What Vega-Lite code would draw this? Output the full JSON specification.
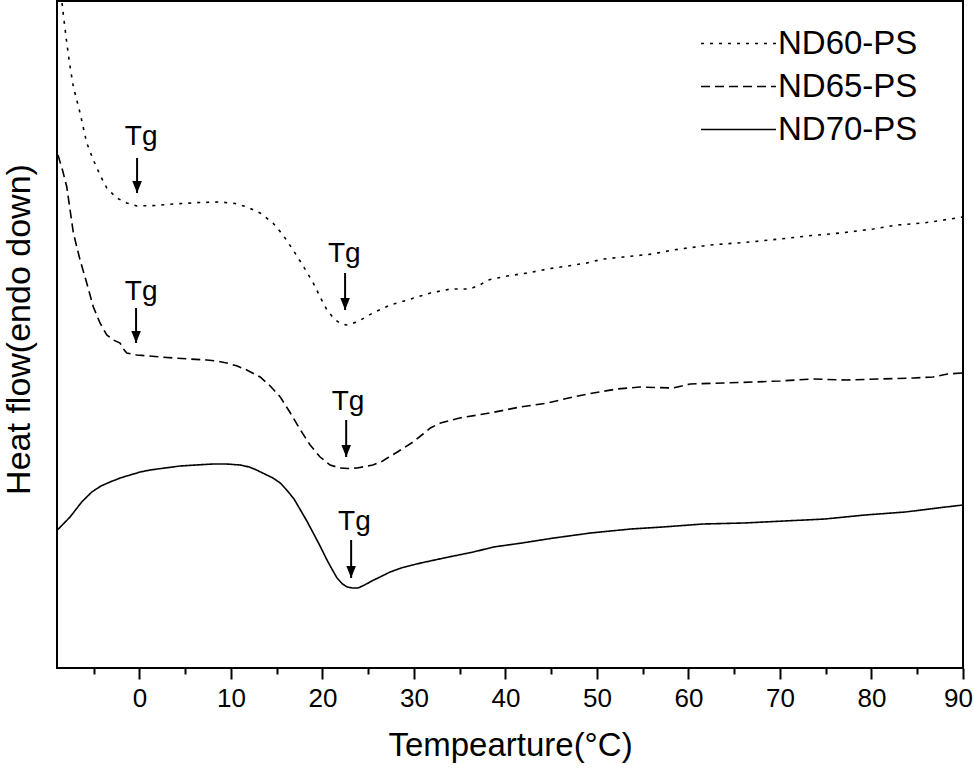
{
  "$schema": "https://vega.github.io/schema/vega-lite/v6.json",
  "width": 906,
  "height": 667,
  "autosize": "none",
  "padding": {"left": 57, "top": 1, "right": 10, "bottom": 105},
  "background": "white",
  "config": {
    "view": {"stroke": "black", "strokeWidth": 2},
    "font": "Liberation Sans",
    "axis": {"grid": false, "labelFont": "Liberation Sans", "titleFont": "Liberation Sans", "labelColor": "black", "titleColor": "black", "titleFontWeight": "normal"}
  },
  "datasets": {
    "curves": [
      {"series": "ND60-PS", "T": -8.45, "hf": 665},
      {"series": "ND60-PS", "T": -8.37, "hf": 658},
      {"series": "ND60-PS", "T": -7.93, "hf": 625},
      {"series": "ND60-PS", "T": -7.57, "hf": 601},
      {"series": "ND60-PS", "T": -7.21, "hf": 581},
      {"series": "ND60-PS", "T": -6.84, "hf": 568},
      {"series": "ND60-PS", "T": -6.48, "hf": 555},
      {"series": "ND60-PS", "T": -5.75, "hf": 525},
      {"series": "ND60-PS", "T": -5.03, "hf": 508},
      {"series": "ND60-PS", "T": -4.3, "hf": 493},
      {"series": "ND60-PS", "T": -3.56, "hf": 480},
      {"series": "ND60-PS", "T": -2.47, "hf": 470},
      {"series": "ND60-PS", "T": -1.38, "hf": 465},
      {"series": "ND60-PS", "T": -0.28, "hf": 462},
      {"series": "ND60-PS", "T": 1.72, "hf": 462.5},
      {"series": "ND60-PS", "T": 3.68, "hf": 464},
      {"series": "ND60-PS", "T": 6.63, "hf": 465.5},
      {"series": "ND60-PS", "T": 8.82, "hf": 466},
      {"series": "ND60-PS", "T": 10.46, "hf": 464.5},
      {"series": "ND60-PS", "T": 11.77, "hf": 461},
      {"series": "ND60-PS", "T": 13.2, "hf": 455},
      {"series": "ND60-PS", "T": 14.6, "hf": 445},
      {"series": "ND60-PS", "T": 15.7, "hf": 433},
      {"series": "ND60-PS", "T": 16.8, "hf": 418},
      {"series": "ND60-PS", "T": 17.9, "hf": 402},
      {"series": "ND60-PS", "T": 19.0, "hf": 385},
      {"series": "ND60-PS", "T": 19.75, "hf": 371},
      {"series": "ND60-PS", "T": 20.5, "hf": 358},
      {"series": "ND60-PS", "T": 21.3, "hf": 349},
      {"series": "ND60-PS", "T": 21.9, "hf": 345},
      {"series": "ND60-PS", "T": 22.6, "hf": 343},
      {"series": "ND60-PS", "T": 23.8, "hf": 346},
      {"series": "ND60-PS", "T": 25.5, "hf": 355},
      {"series": "ND60-PS", "T": 27.4, "hf": 363},
      {"series": "ND60-PS", "T": 29.3, "hf": 368},
      {"series": "ND60-PS", "T": 31.8, "hf": 375},
      {"series": "ND60-PS", "T": 34.0, "hf": 379},
      {"series": "ND60-PS", "T": 36.1, "hf": 379},
      {"series": "ND60-PS", "T": 37.2, "hf": 383},
      {"series": "ND60-PS", "T": 38.1, "hf": 388},
      {"series": "ND60-PS", "T": 40.2, "hf": 392},
      {"series": "ND60-PS", "T": 42.4, "hf": 395},
      {"series": "ND60-PS", "T": 44.6, "hf": 399},
      {"series": "ND60-PS", "T": 46.8, "hf": 402},
      {"series": "ND60-PS", "T": 48.9, "hf": 405},
      {"series": "ND60-PS", "T": 50.7, "hf": 409},
      {"series": "ND60-PS", "T": 52.9, "hf": 411},
      {"series": "ND60-PS", "T": 56.1, "hf": 414},
      {"series": "ND60-PS", "T": 58.3, "hf": 418},
      {"series": "ND60-PS", "T": 62.4, "hf": 423},
      {"series": "ND60-PS", "T": 66.7, "hf": 426},
      {"series": "ND60-PS", "T": 70.0, "hf": 429},
      {"series": "ND60-PS", "T": 72.97, "hf": 432},
      {"series": "ND60-PS", "T": 76.6, "hf": 435},
      {"series": "ND60-PS", "T": 80.2, "hf": 439},
      {"series": "ND60-PS", "T": 82.8, "hf": 443},
      {"series": "ND60-PS", "T": 85.7, "hf": 445},
      {"series": "ND60-PS", "T": 87.9, "hf": 448},
      {"series": "ND60-PS", "T": 90, "hf": 451},

      {"series": "ND65-PS", "T": -8.89, "hf": 513},
      {"series": "ND65-PS", "T": -8.4, "hf": 498},
      {"series": "ND65-PS", "T": -7.93, "hf": 481},
      {"series": "ND65-PS", "T": -7.21, "hf": 435},
      {"series": "ND65-PS", "T": -6.48, "hf": 408},
      {"series": "ND65-PS", "T": -5.75, "hf": 385},
      {"series": "ND65-PS", "T": -5.03, "hf": 361},
      {"series": "ND65-PS", "T": -4.3, "hf": 345},
      {"series": "ND65-PS", "T": -3.56, "hf": 333},
      {"series": "ND65-PS", "T": -2.84, "hf": 328},
      {"series": "ND65-PS", "T": -2.11, "hf": 325},
      {"series": "ND65-PS", "T": -1.75, "hf": 319},
      {"series": "ND65-PS", "T": -1.38, "hf": 315},
      {"series": "ND65-PS", "T": -0.28, "hf": 313},
      {"series": "ND65-PS", "T": 1.7, "hf": 311.5},
      {"series": "ND65-PS", "T": 3.72, "hf": 310},
      {"series": "ND65-PS", "T": 5.5, "hf": 309},
      {"series": "ND65-PS", "T": 7.37, "hf": 308},
      {"series": "ND65-PS", "T": 8.5, "hf": 307},
      {"series": "ND65-PS", "T": 9.55, "hf": 305},
      {"series": "ND65-PS", "T": 10.7, "hf": 302},
      {"series": "ND65-PS", "T": 11.74, "hf": 298},
      {"series": "ND65-PS", "T": 13.2, "hf": 291},
      {"series": "ND65-PS", "T": 14.3, "hf": 282},
      {"series": "ND65-PS", "T": 15.4, "hf": 271},
      {"series": "ND65-PS", "T": 16.5, "hf": 255},
      {"series": "ND65-PS", "T": 17.6, "hf": 238},
      {"series": "ND65-PS", "T": 18.66, "hf": 223},
      {"series": "ND65-PS", "T": 19.75, "hf": 211},
      {"series": "ND65-PS", "T": 20.84, "hf": 203},
      {"series": "ND65-PS", "T": 21.9, "hf": 200},
      {"series": "ND65-PS", "T": 22.8, "hf": 199.5},
      {"series": "ND65-PS", "T": 23.8, "hf": 200},
      {"series": "ND65-PS", "T": 25.5, "hf": 203},
      {"series": "ND65-PS", "T": 26.4, "hf": 206},
      {"series": "ND65-PS", "T": 27.1, "hf": 210},
      {"series": "ND65-PS", "T": 28.2, "hf": 216},
      {"series": "ND65-PS", "T": 29.9, "hf": 226},
      {"series": "ND65-PS", "T": 31.0, "hf": 234},
      {"series": "ND65-PS", "T": 31.8, "hf": 240},
      {"series": "ND65-PS", "T": 32.9, "hf": 245},
      {"series": "ND65-PS", "T": 35.0, "hf": 250},
      {"series": "ND65-PS", "T": 38.3, "hf": 255},
      {"series": "ND65-PS", "T": 41.6, "hf": 261},
      {"series": "ND65-PS", "T": 44.6, "hf": 265},
      {"series": "ND65-PS", "T": 47.4, "hf": 271},
      {"series": "ND65-PS", "T": 49.6, "hf": 275},
      {"series": "ND65-PS", "T": 52.2, "hf": 279},
      {"series": "ND65-PS", "T": 54.7, "hf": 281},
      {"series": "ND65-PS", "T": 58.3, "hf": 280},
      {"series": "ND65-PS", "T": 60.2, "hf": 284},
      {"series": "ND65-PS", "T": 63.8, "hf": 285},
      {"series": "ND65-PS", "T": 67.1, "hf": 286},
      {"series": "ND65-PS", "T": 70.0, "hf": 287},
      {"series": "ND65-PS", "T": 73.6, "hf": 289},
      {"series": "ND65-PS", "T": 77.3, "hf": 288},
      {"series": "ND65-PS", "T": 80.9, "hf": 289},
      {"series": "ND65-PS", "T": 84.6, "hf": 290},
      {"series": "ND65-PS", "T": 86.7, "hf": 291},
      {"series": "ND65-PS", "T": 88.3, "hf": 294},
      {"series": "ND65-PS", "T": 90, "hf": 295},

      {"series": "ND70-PS", "T": -8.96, "hf": 138},
      {"series": "ND70-PS", "T": -7.57, "hf": 151},
      {"series": "ND70-PS", "T": -6.3, "hf": 166},
      {"series": "ND70-PS", "T": -5.2, "hf": 176},
      {"series": "ND70-PS", "T": -4.2, "hf": 182},
      {"series": "ND70-PS", "T": -3.2, "hf": 186},
      {"series": "ND70-PS", "T": -2.1, "hf": 190},
      {"series": "ND70-PS", "T": -1.0, "hf": 193},
      {"series": "ND70-PS", "T": 0.1, "hf": 196},
      {"series": "ND70-PS", "T": 1.16, "hf": 198},
      {"series": "ND70-PS", "T": 2.8, "hf": 200},
      {"series": "ND70-PS", "T": 4.45, "hf": 202},
      {"series": "ND70-PS", "T": 6.2, "hf": 203},
      {"series": "ND70-PS", "T": 8.05, "hf": 204},
      {"series": "ND70-PS", "T": 9.5, "hf": 204},
      {"series": "ND70-PS", "T": 11.0, "hf": 203},
      {"series": "ND70-PS", "T": 12.0, "hf": 201},
      {"series": "ND70-PS", "T": 12.8, "hf": 198},
      {"series": "ND70-PS", "T": 13.7, "hf": 194},
      {"series": "ND70-PS", "T": 14.6, "hf": 190},
      {"series": "ND70-PS", "T": 15.4, "hf": 185},
      {"series": "ND70-PS", "T": 16.1, "hf": 178},
      {"series": "ND70-PS", "T": 16.9, "hf": 169},
      {"series": "ND70-PS", "T": 17.6, "hf": 158},
      {"series": "ND70-PS", "T": 18.3, "hf": 147},
      {"series": "ND70-PS", "T": 19.0, "hf": 135},
      {"series": "ND70-PS", "T": 19.8, "hf": 121},
      {"series": "ND70-PS", "T": 20.5, "hf": 108},
      {"series": "ND70-PS", "T": 21.1, "hf": 98},
      {"series": "ND70-PS", "T": 21.6, "hf": 90},
      {"series": "ND70-PS", "T": 22.2, "hf": 84},
      {"series": "ND70-PS", "T": 22.7, "hf": 81},
      {"series": "ND70-PS", "T": 23.3, "hf": 80},
      {"series": "ND70-PS", "T": 23.9, "hf": 80},
      {"series": "ND70-PS", "T": 24.6, "hf": 83},
      {"series": "ND70-PS", "T": 25.4, "hf": 87},
      {"series": "ND70-PS", "T": 26.3, "hf": 91},
      {"series": "ND70-PS", "T": 27.4, "hf": 96},
      {"series": "ND70-PS", "T": 28.6, "hf": 100},
      {"series": "ND70-PS", "T": 30.75, "hf": 105},
      {"series": "ND70-PS", "T": 33.8, "hf": 111},
      {"series": "ND70-PS", "T": 36.5, "hf": 116},
      {"series": "ND70-PS", "T": 38.7, "hf": 121},
      {"series": "ND70-PS", "T": 41.8, "hf": 125},
      {"series": "ND70-PS", "T": 45.3, "hf": 130},
      {"series": "ND70-PS", "T": 49.3, "hf": 135},
      {"series": "ND70-PS", "T": 53.7, "hf": 139},
      {"series": "ND70-PS", "T": 57.2, "hf": 141},
      {"series": "ND70-PS", "T": 61.6, "hf": 144},
      {"series": "ND70-PS", "T": 66.05, "hf": 145},
      {"series": "ND70-PS", "T": 70.5, "hf": 147},
      {"series": "ND70-PS", "T": 74.9, "hf": 149},
      {"series": "ND70-PS", "T": 79.3, "hf": 153},
      {"series": "ND70-PS", "T": 83.7, "hf": 156},
      {"series": "ND70-PS", "T": 87.2, "hf": 160},
      {"series": "ND70-PS", "T": 90, "hf": 163}
    ],
    "tg": [
      {"label": "Tg", "T": -0.25, "textT": 0.2, "textY": 523, "top": 510, "tip": 475},
      {"label": "Tg", "T": -0.36, "textT": 0.2, "textY": 368, "top": 360, "tip": 325},
      {"label": "Tg", "T": 22.48, "textT": 22.4, "textY": 406, "top": 395, "tip": 358},
      {"label": "Tg", "T": 22.6, "textT": 22.8, "textY": 258, "top": 248, "tip": 211},
      {"label": "Tg", "T": 23.14, "textT": 23.5, "textY": 138, "top": 128, "tip": 90}
    ]
  },
  "layer": [
    {
      "data": {"name": "curves"},
      "mark": {"type": "line", "color": "black", "strokeWidth": 1.6},
      "encoding": {
        "x": {
          "field": "T", "type": "quantitative",
          "scale": {"domain": [-9, 90], "nice": false, "zero": false},
          "axis": {
            "values": [-5, 0, 5, 10, 15, 20, 25, 30, 35, 40, 45, 50, 55, 60, 65, 70, 75, 80, 85, 90],
            "labelExpr": "datum.value % 10 === 0 ? datum.label : ''",
            "tickSize": {"condition": {"test": "datum.value % 10 === 0", "value": 11}, "value": 6},
            "labelOffset": {"condition": {"test": "datum.value === 90", "value": -5}, "value": 0},
            "tickWidth": 2, "tickColor": "black", "domain": false,
            "labelFontSize": 26, "labelPadding": 6, "labelFlush": false, "labelOverlap": false,
            "title": "Tempearture(°C)", "titleFontSize": 33,
            "titleX": 453, "titleY": 77, "titleBaseline": "middle", "titleAlign": "center"
          }
        },
        "y": {
          "field": "hf", "type": "quantitative",
          "scale": {"domain": [0, 667], "nice": false, "zero": false},
          "axis": {
            "labels": false, "ticks": false, "domain": false,
            "title": "Heat flow(endo down)", "titleFontSize": 34,
            "titleX": -38, "titleY": 328, "titleAngle": 270, "titleBaseline": "middle", "titleAlign": "center"
          }
        },
        "strokeDash": {
          "field": "series", "type": "nominal",
          "scale": {"domain": ["ND60-PS", "ND65-PS", "ND70-PS"], "range": [[3, 6], [9, 5], [1, 0]]},
          "legend": {
            "title": null, "orient": "none", "legendX": 665, "legendY": 26, "padding": 0,
            "symbolType": "M-2.5,0H2.5", "symbolSize": 900, "symbolStrokeWidth": 1.6,
            "symbolStrokeColor": "black", "labelFontSize": 33, "labelFont": "Liberation Sans",
            "labelColor": "black", "labelOffset": 23, "rowPadding": 9
          }
        }
      }
    },
    {
      "data": {"name": "tg"},
      "mark": {"type": "rule", "color": "black", "strokeWidth": 2},
      "encoding": {
        "x": {"field": "T", "type": "quantitative"},
        "y": {"field": "top", "type": "quantitative"},
        "y2": {"field": "tip"}
      }
    },
    {
      "data": {"name": "tg"},
      "mark": {"type": "point", "shape": "M-0.8,-1L0.8,-1L0,1Z", "size": 144, "filled": true, "color": "black", "opacity": 1, "yOffset": -6},
      "encoding": {
        "x": {"field": "T", "type": "quantitative"},
        "y": {"field": "tip", "type": "quantitative"}
      }
    },
    {
      "data": {"name": "tg"},
      "mark": {"type": "text", "fontSize": 28, "font": "Liberation Sans", "color": "black", "align": "center", "baseline": "alphabetic"},
      "encoding": {
        "x": {"field": "textT", "type": "quantitative"},
        "y": {"field": "textY", "type": "quantitative"},
        "text": {"field": "label"}
      }
    }
  ]
}
